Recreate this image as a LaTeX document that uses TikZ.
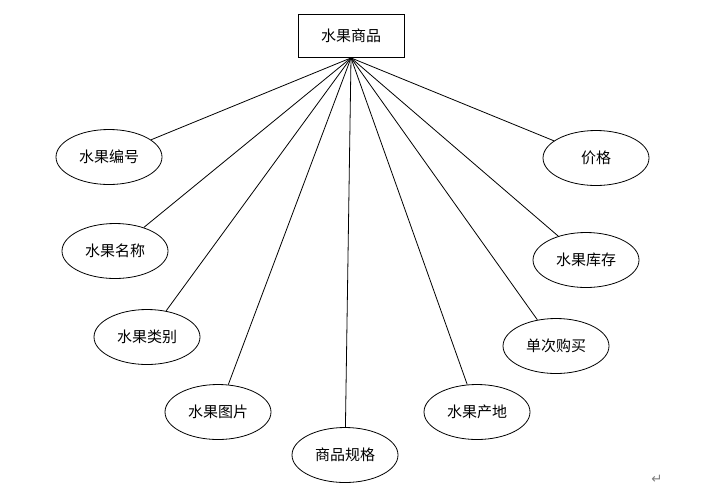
\documentclass[tikz,border=0pt]{standalone}
\usepackage{fontspec}
\newfontfamily\cjk{Noto Sans CJK SC}
\newfontfamily\symfont{DejaVu Sans}
\usetikzlibrary{shapes.geometric}

\begin{document}
\begin{tikzpicture}[x=0.75pt, y=-0.75pt,
                entity/.style={draw=black, line width=0.6pt, rectangle, minimum width=79.5pt, minimum height=32.25pt, inner sep=0pt, font=\cjk\fontsize{11.25}{13}\selectfont},
                attr/.style={draw=black, line width=0.6pt, ellipse, minimum width=79.5pt, minimum height=41.25pt, inner sep=0pt, font=\cjk\fontsize{11.25}{13}\selectfont},
                edge/.style={line width=0.6pt, black}
            ]
            \useasboundingbox (0,0) rectangle (705,494);

            % Entitaet
            \node[entity] (fruit) at (351,36) {水果商品};

            % Attribute
            \node[attr] (id) at (109,157) {水果编号};
            \node[attr] (name) at (115,251) {水果名称};
            \node[attr] (type) at (147,337) {水果类别};
            \node[attr] (pic) at (218,412) {水果图片};
            \node[attr] (spec) at (345,455) {商品规格};
            \node[attr] (origin) at (477,412) {水果产地};
            \node[attr] (buy) at (556,346) {单次购买};
            \node[attr] (stock) at (586,260) {水果库存};
            \node[attr] (price) at (596,158) {价格};

            % Kanten
            \foreach \a in {id, name, type, pic, spec, origin, buy, stock, price}
                \draw[edge] (fruit.south) -- (\a);

            \node[text=gray, font=\symfont\fontsize{10}{12}\selectfont] (para) at (657,479) {↵};
        \end{tikzpicture}
\end{document}
